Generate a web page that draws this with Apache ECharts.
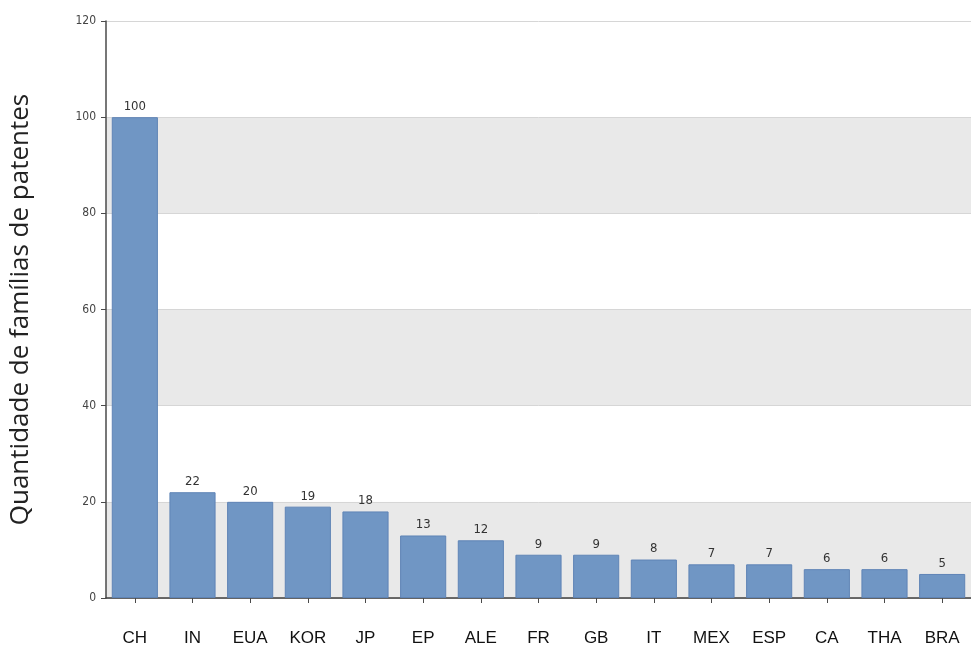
<!DOCTYPE html>
<html>
<head>
<meta charset="utf-8">
<script src="https://cdn.jsdelivr.net/npm/echarts@6/dist/echarts.min.js"></script>
<style>
  html, body { margin: 0; padding: 0; background: #ffffff; }
  #chart { width: 971px; height: 653px; }
</style>
</head>
<body>
<div id="chart"></div>
<script>
// Country codes along the x axis
const countries = ['CH', 'IN', 'EUA', 'KOR', 'JP', 'EP', 'ALE', 'FR', 'GB', 'IT', 'MEX', 'ESP', 'CA', 'THA', 'BRA'];
// Number of patent families per country
const families = [100, 22, 20, 19, 18, 13, 12, 9, 9, 8, 7, 7, 6, 6, 5];
// Y axis scale
const yMin = 0;
const yMax = 120;
const yStep = 20;
const yTitle = 'Quantidade de famílias de patentes';

const chart = echarts.init(document.getElementById('chart'), null, { renderer: 'canvas' });

chart.setOption({
  animation: false,
  backgroundColor: '#ffffff',
  grid: { left: 106, top: 21, width: 875, bottom: 55, containLabel: false },
  xAxis: {
    type: 'category',
    data: countries,
    boundaryGap: true,
    axisLine: { show: true, lineStyle: { color: '#3f3f3f', width: 1.5 } },
    axisTick: { show: true, alignWithLabel: true, length: 5, lineStyle: { color: '#4a4a4a' } },
    axisLabel: {
      margin: 32,
      fontFamily: 'Liberation Sans, Arial, sans-serif',
      fontSize: 17,
      color: '#111111'
    },
    splitLine: { show: false }
  },
  yAxis: {
    type: 'value',
    min: yMin,
    max: yMax,
    interval: yStep,
    name: yTitle,
    nameLocation: 'middle',
    nameGap: 72,
    nameRotate: 90,
    nameTextStyle: {
      fontFamily: 'Open Sans, Noto Sans, sans-serif',
      fontSize: 26,
      color: '#222222'
    },
    axisLine: { show: true, lineStyle: { color: '#4a4a4a', width: 1.5 } },
    axisTick: { show: true, length: 5, lineStyle: { color: '#4a4a4a' } },
    axisLabel: {
      margin: 10,
      fontFamily: 'DejaVu Sans Condensed, DejaVu Sans, sans-serif',
      fontSize: 12,
      color: '#444444'
    },
    splitLine: { show: true, lineStyle: { color: '#d6d6d6', width: 1 } },
    splitArea: { show: true, areaStyle: { color: ['#e9e9e9', '#ffffff'] } }
  },
  series: [{
    type: 'bar',
    data: families,
    barCategoryGap: '20%',
    itemStyle: {
      color: '#7096c4',
      borderColor: '#5f84b6',
      borderWidth: 1
    },
    label: {
      show: true,
      position: 'top',
      distance: 4,
      fontFamily: 'DejaVu Sans Condensed, DejaVu Sans, sans-serif',
      fontSize: 13,
      color: '#333333'
    }
  }]
});
</script>
</body>
</html>
